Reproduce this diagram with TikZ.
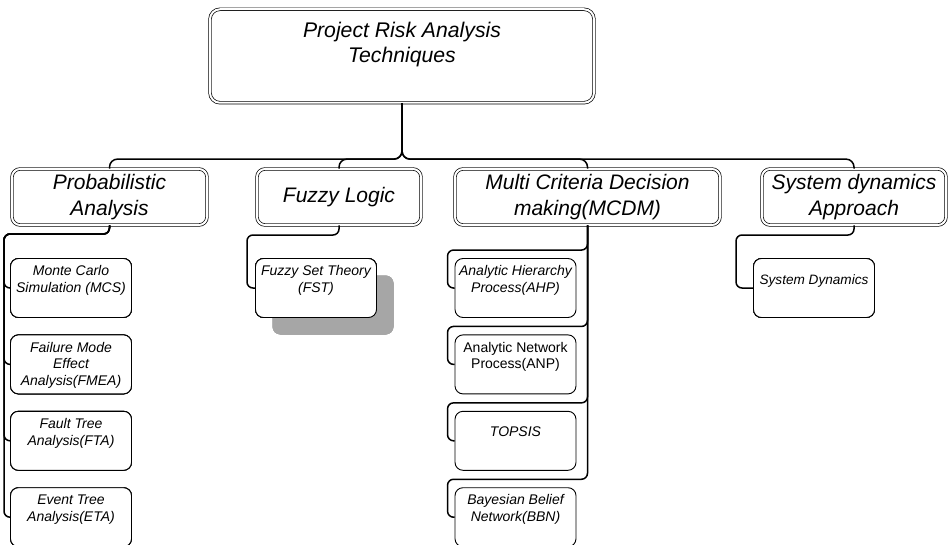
\documentclass[tikz,border=0pt]{standalone}
\usepackage{fontspec}
\setmainfont{Liberation Sans}
\usetikzlibrary{positioning,shadows,calc}
\tikzstyle{rootbox}=[draw,double,double distance=2pt,line width=.7pt,rounded corners=10pt,inner sep=0pt]
\tikzstyle{groupbox}=[draw,double,double distance=2pt,line width=.7pt,rounded corners=8pt,
  inner sep=0pt,minimum height=56pt,align=center,font=\fontsize{21}{25.5}\selectfont\itshape]
\tikzstyle{leafbox}=[draw,line width=.9pt,rounded corners=8pt,inner sep=0pt,fill=white,
  font=\fontsize{14}{16.8}\selectfont\itshape]
\tikzstyle{linkline}=[line width=1.5pt,rounded corners=6pt]
\newcommand{\leafText}[1]{\parbox[c][59pt][t]{121pt}{\centering\rule{0pt}{17.2pt}#1}}
\newcommand{\newGroup}[4]{\node[groupbox,minimum width=#3](#1) at #4 {#2};}
\newcommand{\newLeaf}[4]{\node[leafbox,#3](#1)[#4]{\leafText{#2}};}
\newcommand{\newBranch}[1]{\draw[linkline,rounded corners=8pt] (root.south) -- (bus) -| (#1.north);}
\newcommand{\newLink}[3]{\draw[linkline] (#1.south) |- (#3) |- (#2.west);}

\begin{document}
\begin{tikzpicture}[x=1pt,y=1pt]
  \useasboundingbox (0,0) rectangle (949,-545);
  \node[rootbox](root) at (402,-56)
    {\parbox[c][93.5pt][t]{384pt}{\centering\fontsize{21.2}{25}\selectfont\itshape
     \rule{0pt}{28pt}Project Risk Analysis\\Techniques}};
  \path (root.south) ++(0,-56) coordinate (bus);
  % second level
  \newGroup{prob}{Probabilistic\\Analysis}{195pt}{(109.5,-197)}
  \newGroup{fuzzy}{Fuzzy Logic}{164pt}{(339,-197)}
  \newGroup{mcdm}{Multi Criteria Decision\\making(MCDM)}{265pt}{(587.5,-197)}
  \newGroup{sys}{System dynamics\\Approach}{184pt}{(854,-197)}
  \foreach \g in {prob,fuzzy,mcdm,sys}
    \newBranch{\g}
  % probabilistic analysis
  \newLeaf{mcs}{Monte Carlo\\Simulation (MCS)}{}{at={(71,-288)}}
  \newLeaf{fmea}{Failure Mode\\Effect\\Analysis(FMEA)}{}{below=16.5pt of mcs}
  \newLeaf{fta}{Fault Tree\\Analysis(FTA)}{}{below=16.5pt of fmea}
  \newLeaf{eta}{Event Tree\\Analysis(ETA)}{}{below=16.5pt of fta}
  \coordinate (probbend) at (4,-234);
  \foreach \c in {mcs,fmea,fta,eta}
    \newLink{prob}{\c}{probbend}
  % fuzzy logic
  \newLeaf{fst}{Fuzzy Set Theory\\(FST)}{drop shadow={shadow xshift=17pt,shadow yshift=-17pt,fill=black!35,opacity=1}}{at={(316,-288)}}
  \coordinate (fuzzybend) at (247,-235);
  \newLink{fuzzy}{fst}{fuzzybend}
  % mcdm
  \newLeaf{ahp}{Analytic Hierarchy\\Process(AHP)}{}{at={(515.5,-288)}}
  \newLeaf{anp}{Analytic Network\\Process(ANP)}{font=\fontsize{14}{16.8}\selectfont}{below=16.5pt of ahp}
  \newLeaf{topsis}{\rule{0pt}{25.5pt}TOPSIS}{}{below=16.5pt of anp}
  \newLeaf{bbn}{Bayesian Belief\\Network(BBN)}{}{below=16.5pt of topsis}
  \foreach \c in {ahp,anp,topsis,bbn}
    \newLink{mcdm}{\c}{$(\c.north west)+(-7,8)$}
  % system dynamics
  \newLeaf{sd}{\rule{0pt}{25.5pt}System Dynamics}{font=\fontsize{13.6}{16.8}\selectfont\itshape}{at={(814,-288)}}
  \coordinate (sysbend) at (736,-235);
  \newLink{sys}{sd}{sysbend}
\end{tikzpicture}
\end{document}
